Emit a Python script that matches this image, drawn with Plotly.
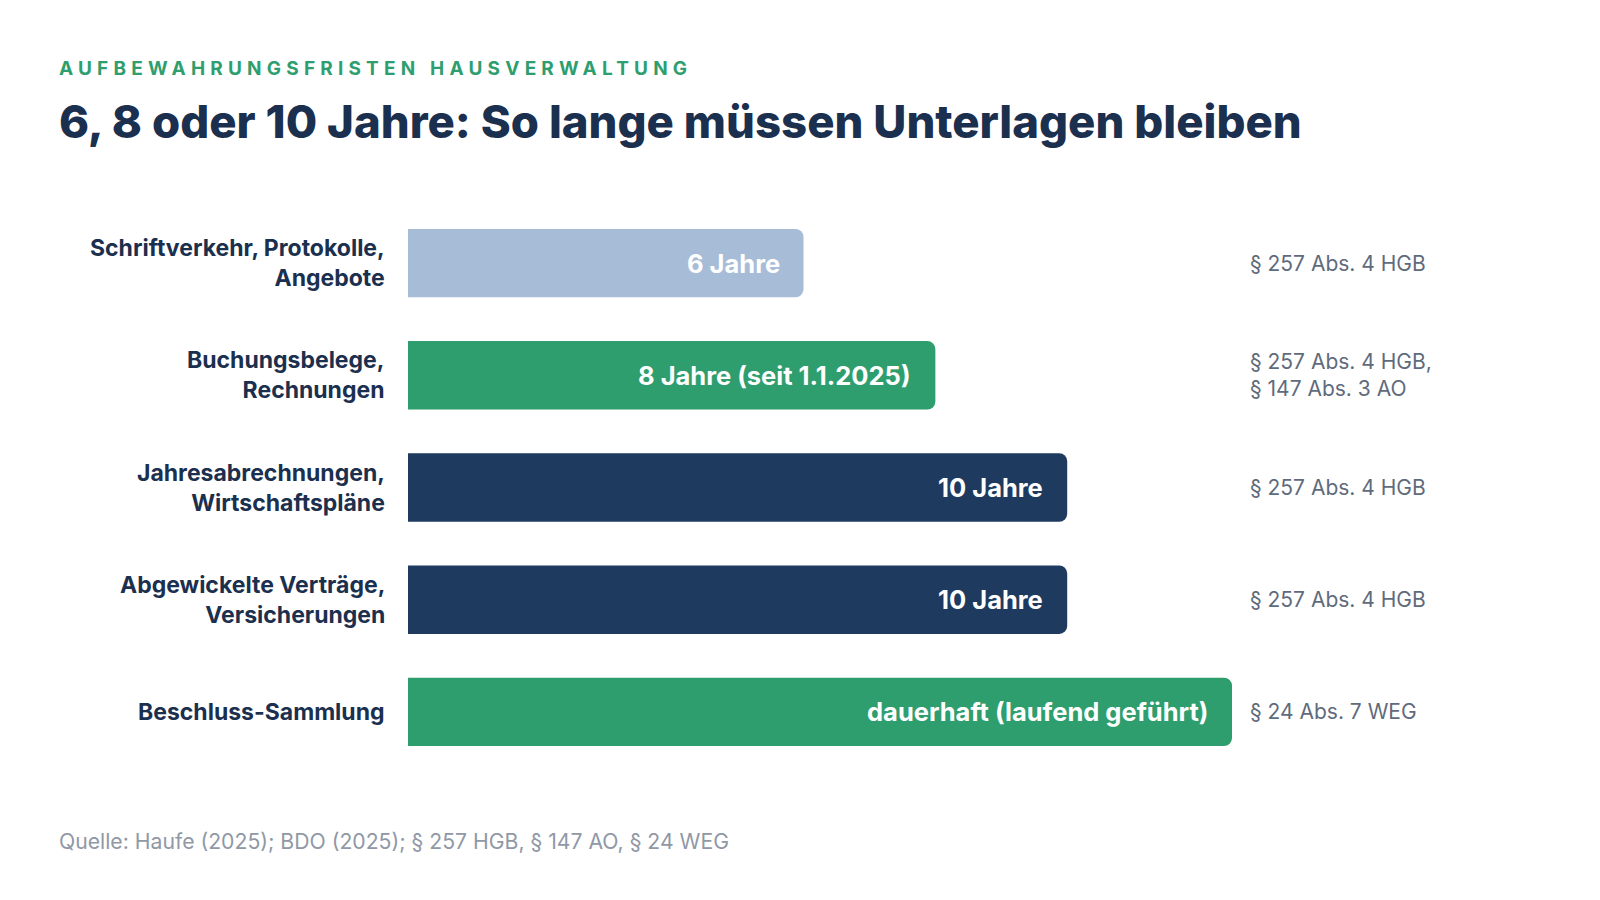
import plotly.graph_objects as go

categories = [
    "Schriftverkehr, Protokolle,<br>Angebote",
    "Buchungsbelege,<br>Rechnungen",
    "Jahresabrechnungen,<br>Wirtschaftspläne",
    "Abgewickelte Verträge,<br>Versicherungen",
    "Beschluss-Sammlung",
]
years = [6, 8, 10, 10, 12.5]
bar_labels = ["6 Jahre", "8 Jahre (seit 1.1.2025)", "10 Jahre", "10 Jahre", "dauerhaft (laufend geführt)"]
sources = [
    "§ 257 Abs. 4 HGB",
    "§ 257 Abs. 4 HGB,<br>§ 147 Abs. 3 AO",
    "§ 257 Abs. 4 HGB",
    "§ 257 Abs. 4 HGB",
    "§ 24 Abs. 7 WEG",
]
colors = ["#A7BDD7", "#2E9E6E", "#1E3A5F", "#1E3A5F", "#2E9E6E"]

FONT = "Inter"
NAVY = "#1B2F4E"
KICKER_SPACING = 5.2  # px letter spacing for the kicker line

fig = go.Figure()
fig.add_trace(go.Bar(
    x=years, y=categories, orientation="h",
    marker=dict(color=colors, cornerradius=8, line=dict(width=0)),
    hoverinfo="skip",
))

annotations = []
for cat, v, lab, src in zip(categories, years, bar_labels, sources):
    annotations.append(dict(
        x=v, y=cat, xref="x", yref="y", text=f"<b>{lab}</b>", showarrow=False,
        xanchor="right", xshift=-22, font=dict(family=FONT, size=25.5, color="white", weight=700),
    ))
    annotations.append(dict(
        x=0, y=cat, xref="x", yref="y", text=cat, showarrow=False, align="right",
        xanchor="right", xshift=-21, font=dict(family=FONT, size=23, color=NAVY, weight=700),
    ))
    annotations.append(dict(
        x=1.0, y=cat, xref="paper", yref="y", text=src, showarrow=False, align="left",
        xanchor="left", xshift=16, font=dict(family=FONT, size=21, color="#5F6B7D"),
    ))

kicker = "AUFBEWAHRUNGSFRISTEN HAUSVERWALTUNG"
annotations += [
    dict(x=57, y=900 - 69, xref="paper", yref="paper", text=kicker,
         showarrow=False, xanchor="left", yanchor="middle",
         xshift=len(kicker) * KICKER_SPACING / 2,
         font=dict(family=FONT, size=19, color="#2E9E6E", weight=700)),
    dict(x=57, y=900 - 122, xref="paper", yref="paper",
         text="6, 8 oder 10 Jahre: So lange müssen Unterlagen bleiben",
         showarrow=False, xanchor="left", yanchor="middle",
         font=dict(family=FONT, size=45.5, color=NAVY, weight=800)),
    dict(x=57, y=900 - 841, xref="paper", yref="paper",
         text="Quelle: Haufe (2025); BDO (2025); § 257 HGB, § 147 AO, § 24 WEG",
         showarrow=False, xanchor="left", yanchor="middle",
         font=dict(family=FONT, size=21.2, color="#9098A6")),
]

L, R, T, B = 408, 368, 207, 132
pw, ph = 1600 - L - R, 900 - T - B
for a in annotations[-3:]:
    a["x"] = (a["x"] - L) / pw
    a["y"] = (a["y"] - B) / ph

fig.update_layout(
    width=1600, height=900,
    margin=dict(l=L, r=R, t=T, b=B),
    paper_bgcolor="white", plot_bgcolor="white",
    bargap=0.39,
    showlegend=False,
    xaxis=dict(range=[0, 12.5], visible=False, fixedrange=True),
    yaxis=dict(autorange="reversed", visible=False, fixedrange=True),
    annotations=annotations,
    font=dict(family=FONT),
)

post = """
var el = document.querySelectorAll('.annotation-text');
el.forEach(function(t){ if (t.textContent.indexOf('AUFBEWAHRUNGS') === 0) { t.style.letterSpacing = '%spx'; } });
""" % KICKER_SPACING
fig.write_html("out.html", post_script=post, config={"displayModeBar": False})
